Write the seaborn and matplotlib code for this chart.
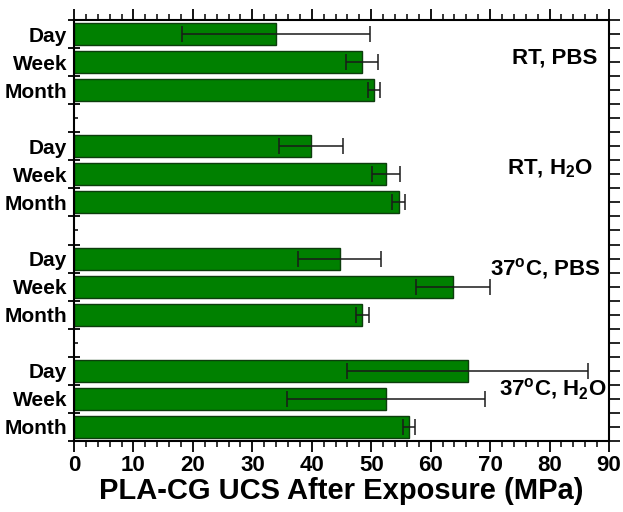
import numpy as np
import pandas as pd
import matplotlib
matplotlib.use("Agg")
import matplotlib.pyplot as plt
import seaborn as sns

# ---- data ----
conditions = ["RT, PBS", "RT, H2O", "37C, PBS", "37C, H2O"]
condition_labels = [r"RT, PBS", r"RT, H$_\mathbf{2}$O",
                    r"37$^\mathbf{o}$C, PBS", r"37$^\mathbf{o}$C, H$_\mathbf{2}$O"]
periods = ["Day", "Week", "Month"]
rt_pbs_mean = [34.0, 48.4, 50.4]
rt_pbs_err = [15.8, 2.7, 1.0]
rt_h2o_mean = [39.9, 52.5, 54.6]
rt_h2o_err = [5.4, 2.4, 1.05]
c37_pbs_mean = [44.7, 63.8, 48.5]
c37_pbs_err = [7.0, 6.2, 1.05]
c37_h2o_mean = [66.2, 52.5, 56.4]
c37_h2o_err = [20.2, 16.7, 1.0]
x_ticks = [0, 10, 20, 30, 40, 50, 60, 70, 80, 90]
x_label = "PLA-CG UCS After Exposure (MPa)"

means = [rt_pbs_mean, rt_h2o_mean, c37_pbs_mean, c37_h2o_mean]
errs = [rt_pbs_err, rt_h2o_err, c37_pbs_err, c37_h2o_err]

rows = []
order = []
for i, cond in enumerate(conditions):
    for j, per in enumerate(periods):
        key = f"{cond}|{per}"
        order.append(key)
        rows.append({"slot": key, "period": per, "ucs": means[i][j], "err": errs[i][j]})
    if i < len(conditions) - 1:
        order.append(f"gap{i}")
df = pd.DataFrame(rows)
df["pos"] = [order.index(s) for s in df["slot"]]

# ---- style ----
sns.set_style("ticks")
plt.rcParams["font.family"] = ["Liberation Sans", "DejaVu Sans"]
plt.rcParams["font.weight"] = "bold"
plt.rcParams["mathtext.fontset"] = "custom"
plt.rcParams["mathtext.rm"] = "Liberation Sans:bold"
plt.rcParams["mathtext.bf"] = "Liberation Sans:bold"
plt.rcParams["mathtext.it"] = "Liberation Sans:bold"
for k in ["text.color", "axes.labelcolor", "xtick.color", "ytick.color", "axes.edgecolor"]:
    plt.rcParams[k] = "black"

fig = plt.figure(figsize=(6.23, 5.12), dpi=100)
ax = fig.add_axes([74 / 623, 1 - 441 / 512, (609 - 74) / 623, (441 - 20) / 512])

sns.barplot(data=df, x="ucs", y="slot", order=order, orient="h",
            color="#008000", saturation=1, edgecolor="#0d3d0d", linewidth=1.0,
            width=0.78, errorbar=None, ax=ax)
ax.errorbar(df["ucs"], df["pos"], xerr=df["err"], fmt="none",
            ecolor="#1a1a1a", elinewidth=1.1, capsize=6, capthick=1.1)

ax.set_xlim(0, 90)
ax.set_ylim(len(order) - 0.5, -0.5)

# x ticks
ax.set_xticks(x_ticks)
ax.set_xticklabels([str(t) for t in x_ticks], fontsize=16, fontweight="bold")
ax.xaxis.set_minor_locator(matplotlib.ticker.MultipleLocator(2))
ax.tick_params(axis="x", which="major", direction="out", length=8, width=1.3,
               top=True, bottom=True, labeltop=False, pad=2)
ax.tick_params(axis="x", which="minor", direction="out", length=4, width=1.1,
               top=True, bottom=True)

# y ticks: majors at boundaries, labels on minor ticks at centers
ylabels = []
for key in order:
    ylabels.append(key.split("|")[1] if "|" in key else "")
ax.set_yticks(np.arange(-0.5, len(order), 1.0))
ax.set_yticklabels([])
ax.set_yticks(np.arange(len(order)), ylabels, minor=True)
for lab in ax.get_yticklabels(minor=True):
    lab.set_fontsize(15)
    lab.set_fontweight("bold")
ax.tick_params(axis="y", which="major", direction="inout", length=9, width=1.3,
               left=True, right=False)
ax.tick_params(axis="y", which="minor", direction="in", length=3, width=1.1,
               left=True, right=False, pad=5)
ax.set_ylabel("")

ax.set_xlabel(x_label, fontsize=21, fontweight="bold", labelpad=1)

for sp in ax.spines.values():
    sp.set_visible(True)
    sp.set_linewidth(1.5)
    sp.set_color("black")

# right-side ticks
tw = ax.twinx()
tw.set_ylim(ax.get_ylim())
tw.set_yticks(np.arange(-0.5, len(order), 0.5))
tw.tick_params(axis="y", direction="out", length=8, width=1.2, labelright=False)
for sp in tw.spines.values():
    sp.set_visible(False)

# condition labels
label_x = [80.9, 80.1, 79.2, 80.6]
label_y = [0.85, 4.8, 8.35, 12.65]
for lx, ly, txt in zip(label_x, label_y, condition_labels):
    ax.text(lx, ly, txt, ha="center", va="center", fontsize=16, fontweight="bold")

fig.savefig("out.png", dpi=100)
